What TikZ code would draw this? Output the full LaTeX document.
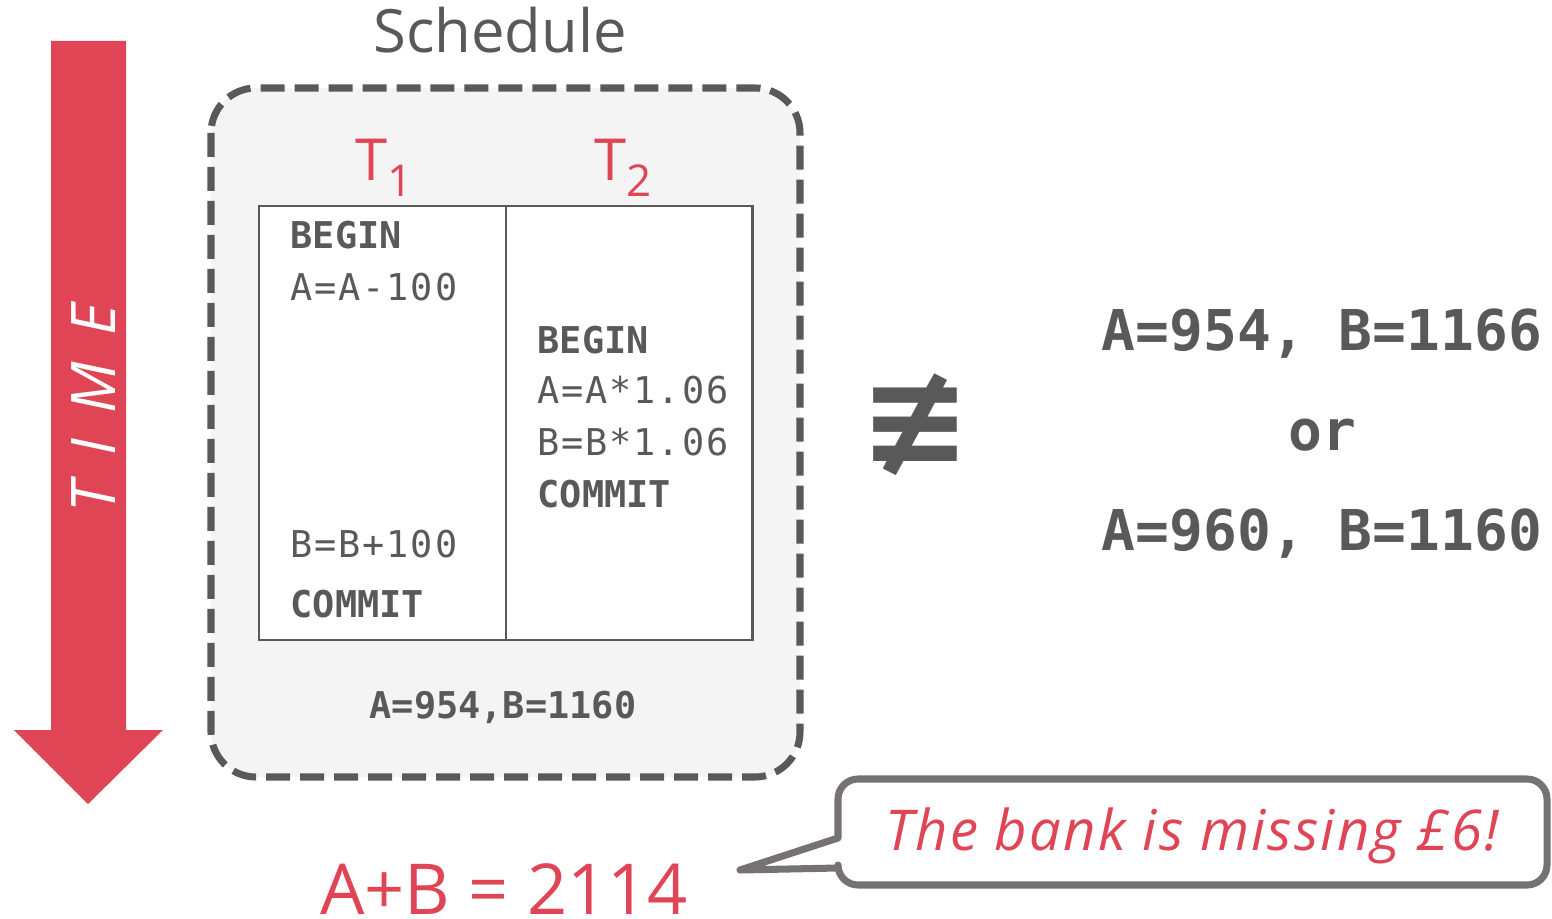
\documentclass[tikz,border=0pt]{standalone}
\usepackage{fontspec}
\setmainfont{Open Sans}
\setmonofont{DejaVu Sans Mono}
\newfontfamily\symfont{DejaVu Sans}
\newfontfamily\spacedmono[LetterSpace=5]{DejaVu Sans Mono}
\definecolor{alertred}{RGB}{224,69,85}
\definecolor{inkgray}{RGB}{89,89,89}
\definecolor{panelgray}{RGB}{244,244,244}
\definecolor{notegray}{RGB}{118,114,113}
\tikzset{
  code/.style={inner sep=0pt,anchor=base west,text=inkgray,
    font=\spacedmono\fontsize{21}{25}\selectfont},
  codebf/.style={code,font=\ttfamily\bfseries\fontsize{21}{25}\selectfont},
  result/.style={inner sep=0pt,anchor=base,text=inkgray,
    font=\ttfamily\bfseries\fontsize{32}{38}\selectfont},
  txn/.style={inner sep=0pt,anchor=base,text=alertred,
    font=\fontsize{33}{38}\selectfont},
  column/.style={draw=inkgray,line width=1.7pt,fill=white},
}
\newcommand{\sbx}[1]{\raisebox{-0.28em}{\fontsize{25}{28}\selectfont #1}}
\begin{document}
\begin{tikzpicture}[x=0.02cm,y=-0.02cm,>=latex,thick]
\useasboundingbox (0,0) rectangle (1552,919);

% time arrow
\fill[alertred] (51,41) -- (126,41) -- (126,730) -- (163,730) -- (88,804)
  -- (14,730) -- (51,730) -- cycle;
\node (time) at (94,408) [rotate=90,text=white,inner sep=0pt,
  font=\itshape\fontsize{35}{40}\selectfont] {T\hspace{0.42em}I\hspace{0.42em}M\hspace{0.42em}E};

% schedule
\node (sched) at (500,53) [anchor=base,inner sep=0pt,text=inkgray,
  font=\fontsize{34}{40}\selectfont] {Schedule};
\draw[draw=inkgray,fill=panelgray,line width=4pt,dash pattern=on 0.48cm off 0.2cm,
  rounded corners=0.9cm] (211,88) rectangle (800,777);

\node (t1) at (384,180) [txn] {T\sbx{1}};
\node (t2) at (623,180) [txn] {T\sbx{2}};

\draw[column] (259,206) rectangle (506,640);
\draw[column] (506,206) rectangle (752,640);

\node (begA) at (290,248) [codebf] {BEGIN};
\node (opA) at (290,300) [code] {A=A-100};
\node (opB) at (290,557) [code] {B=B+100};
\node (comA) at (290,617) [codebf] {COMMIT};

\node (begB) at (537,353) [codebf] {BEGIN};
\node (intA) at (537,403) [code] {A=A*1.06};
\node (intB) at (537,455) [code] {B=B*1.06};
\node (comB) at (537,507) [codebf] {COMMIT};

\node (got) at (503,718) [codebf,anchor=base] {A=954,B=1160};

% serial outcomes
\node (neq) at (915,425) [inner sep=0pt,text=inkgray,
  font=\symfont\bfseries\fontsize{76}{80}\selectfont] {≢};
\node (ser1) at (1322,350) [result] {A=954, B=1166};
\node (or) at (1322,450) [result] {or};
\node (ser2) at (1322,550) [result] {A=960, B=1160};

\node (sum) at (504,914) [anchor=base,inner sep=0pt,text=alertred,
  font=\fontsize{40}{44}\selectfont] {A+B = 2114};

% callout
\coordinate (tip) at (740,870);
\draw[notegray,line width=4pt,fill=white,line join=round]
  (838,868) [rounded corners=0.4cm] -- (838,885) -- (1547,885) -- (1547,779)
  -- (838,779) [sharp corners] -- (838,838) -- (tip) -- cycle;
\node (note) at (1192,850) [anchor=base,inner sep=0pt,text=alertred,
  font=\itshape\fontsize{32}{36}\selectfont\addfontfeatures{LetterSpace=4}] {The bank is missing £6!};

\end{tikzpicture}
\end{document}
